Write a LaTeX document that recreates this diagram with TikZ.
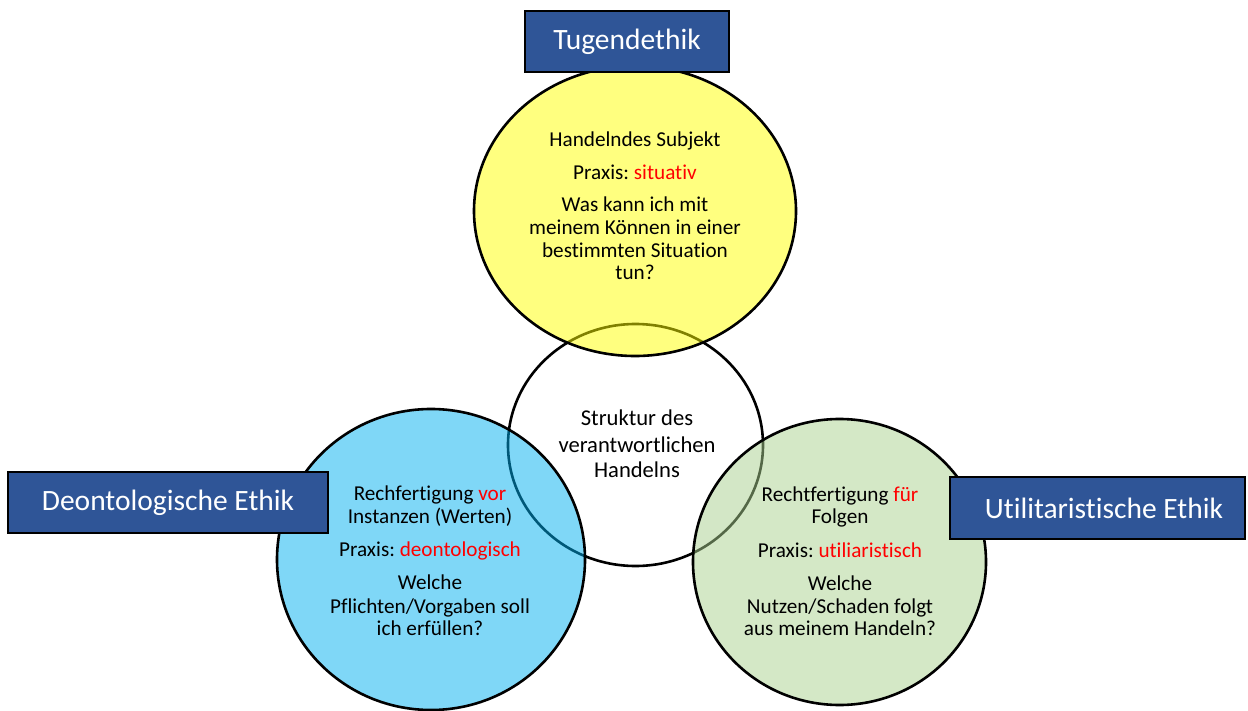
\documentclass[tikz,border=0pt]{standalone}
\usepackage{fontspec}
\setmainfont{Carlito}[Ligatures={NoCommon}]
\frenchspacing
\usetikzlibrary{shapes.geometric}
\definecolor{ybase}{RGB}{255,255,0}
\definecolor{bbase}{RGB}{0,176,240}
\definecolor{gbase}{RGB}{169,209,142}
\definecolor{boxblue}{RGB}{47,85,151}
\definecolor{hired}{RGB}{255,0,0}
\begin{document}
\begin{tikzpicture}[x=1pt,y=-1pt,
  ring/.style={ellipse, draw=black, line width=2.6pt, inner sep=0pt},
  lbl/.style={rectangle, fill=boxblue, draw=black, line width=1.3pt, text=white, inner sep=0pt,
    font=\fontsize{29.5}{34}\selectfont},
  tl/.style={anchor=base, inner sep=0pt, font=\fontsize{21.2}{23.3}\selectfont},
  sl/.style={anchor=base, inner sep=0pt, font=\fontsize{22.6}{26}\selectfont}]
\useasboundingbox (0,0) rectangle (1248,711);
% circles
\node[ring, fill=white, minimum width=255pt, minimum height=242pt] (mid) at (635.5,445) {};
\node[ring, fill=ybase, fill opacity=0.5, minimum width=322pt, minimum height=290pt] (yel) at (635,211) {};
\node[ring, fill=bbase, fill opacity=0.5, minimum width=308pt, minimum height=301pt] (blu) at (431,559.5) {};
\node[ring, fill=gbase, fill opacity=0.5, minimum width=293pt, minimum height=286pt] (grn) at (839.5,562) {};
% yellow text
\node[tl] (y1) at (635,147) {Handelndes Subjekt};
\node[tl] (y2) at (635,180) {Praxis: \textcolor{hired}{situativ}};
\node[tl] (y3) at (635,212) {Was kann ich mit};
\node[tl] (y4) at (635,235) {meinem Können in einer};
\node[tl] (y5) at (635,258) {bestimmten Situation};
\node[tl] (y6) at (635,280) {tun?};
% middle text
\node[sl] (m1) at (637,425) {Struktur des};
\node[sl] (m2) at (637,452) {verantwortlichen};
\node[sl] (m3) at (637,477) {Handelns};
% blue text
\node[tl] (b1) at (430,500) {Rechfertigung \textcolor{hired}{vor}};
\node[tl] (b2) at (430,523) {Instanzen (Werten)};
\node[tl] (b3) at (430,556) {Praxis: \textcolor{hired}{deontologisch}};
\node[tl] (b4) at (430,589) {Welche};
\node[tl] (b5) at (430,613) {Pflichten/Vorgaben soll};
\node[tl] (b6) at (430,635) {ich erfüllen?};
% green text
\node[tl] (g1) at (840,501) {Rechtfertigung \textcolor{hired}{für}};
\node[tl] (g2) at (840,523) {Folgen};
\node[tl] (g3) at (840,557) {Praxis: \textcolor{hired}{utiliaristisch}};
\node[tl] (g4) at (840,590) {Welche};
\node[tl] (g5) at (840,613) {Nutzen/Schaden folgt};
\node[tl] (g6) at (840,635) {aus meinem Handeln?};
% label boxes
\node[lbl, minimum width=204pt, minimum height=61pt] (tug) at (627,41.5) {Tugendethik};
\node[lbl, minimum width=320pt, minimum height=61pt] (deo) at (168,502.5) {Deontologische Ethik};
\node[lbl, minimum width=295pt, minimum height=62pt] (uti) at (1097.5,508) {\hspace*{13pt}Utilitaristische Ethik};
\end{tikzpicture}
\end{document}
